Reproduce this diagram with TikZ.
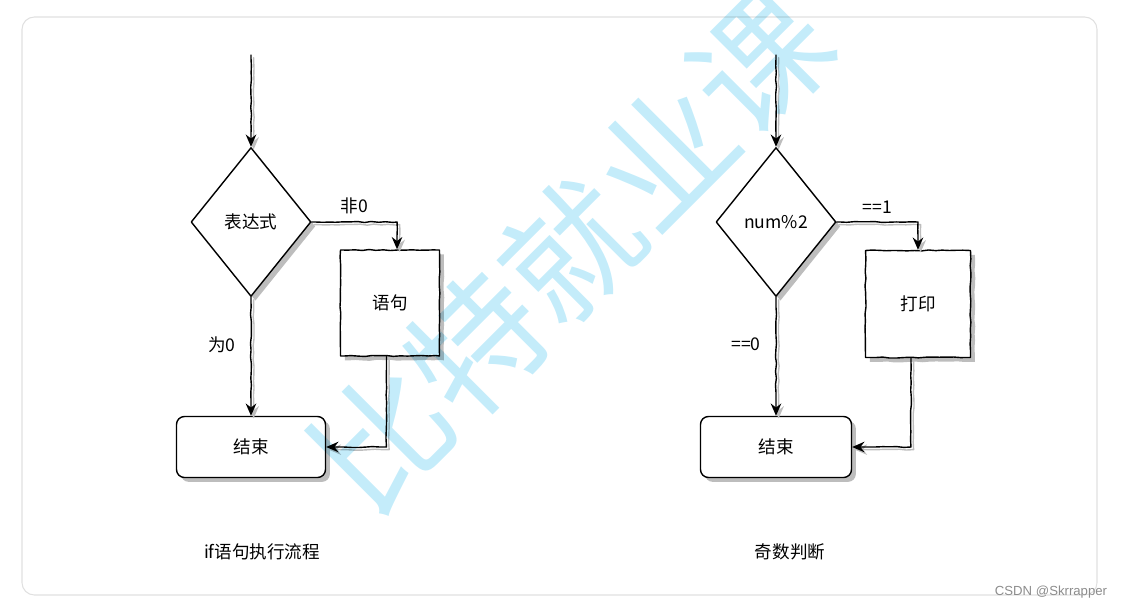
\documentclass[tikz,border=0pt]{standalone}
\usepackage{fontspec}
\setmainfont{Noto Sans CJK SC}
\newfontfamily\csdnfont{Liberation Sans}
\usetikzlibrary{shapes.geometric,decorations.pathmorphing,shadows,arrows.meta}
\definecolor{FrameGray}{HTML}{E0E0E0}
\definecolor{MarkCyan}{HTML}{C4ECFA}
\definecolor{ShadowGray}{HTML}{BDBDBD}

\begin{document}
\begin{tikzpicture}[x=0.02cm,y=-0.02cm,line cap=round,line join=round,>={Stealth[length=7pt,width=6pt]},
  sketch/.style={decorate,decoration={random steps,segment length=4pt,amplitude=.3pt,pre length=2pt,post length=8pt}},
  shade/.style={drop shadow={shadow xshift=2.5pt,shadow yshift=-2.5pt,fill=ShadowGray,opacity=1}},
  txt/.style={font=\fontsize{10}{12}\selectfont},
  test/.style={diamond,draw,line width=.8pt,fill=white,shade,txt,minimum width=2.4cm,minimum height=2.98cm,inner sep=0pt},
  stmt/.style={rectangle,draw,line width=.8pt,fill=white,shade,txt,sketch},
  stop/.style={rectangle,rounded corners=4.5pt,draw,line width=.8pt,fill=white,shade,txt,minimum width=2.98cm,minimum height=1.22cm},
  wire/.style={->,line width=.8pt,sketch,preaction={draw=ShadowGray,line width=.8pt,transform canvas={xshift=1.5pt,yshift=-1.5pt}}}]
  \useasboundingbox (0,0) rectangle (1126,609);
  \draw[FrameGray,line width=.6pt,rounded corners=7pt] (22,17) rectangle (1097,595);

  % if语句执行流程
  \coordinate (in1) at (251,55);
  \node[test] (d1) at (251,222) {表达式};
  \node[stmt,minimum width=1.98cm,minimum height=2.12cm] (s1) at (390,303) {语句};
  \node[stop] (e1) at (251,447) {结束};
  \draw[wire] (in1) -- (d1.north);
  \draw[wire] (d1.east) -| node[pos=.25,above=1pt,txt] (l11) {非0} ([xshift=4pt]s1.north);
  \draw[wire] (d1.south) -- node[pos=.4,left=5pt,txt] (l12) {为0} (e1.north);
  \draw[wire] ([xshift=-2pt]s1.south) |- (e1.east);
  \node[txt] (c1) at (262,552) {if语句执行流程};

  % 奇数判断
  \coordinate (in2) at (776,55);
  \node[test] (d2) at (776,222) {num\%2};
  \node[stmt,minimum width=2.1cm,minimum height=2.14cm] (s2) at (918,304) {打印};
  \node[stop,minimum width=3.02cm] (e2) at (776,447) {结束};
  \draw[wire] (in2) -- (d2.north);
  \draw[wire] (d2.east) -| node[pos=.25,above=1pt,txt] (l21) {==1} (s2.north);
  \draw[wire] (d2.south) -- node[pos=.4,left=5pt,txt] (l22) {==0} (e2.north);
  \draw[wire] ([xshift=-4pt]s2.south) |- (e2.east);
  \node[txt] (c2) at (790,552) {奇数判断};

  % watermarks
  \begin{scope}[blend mode=multiply]
    \node[MarkCyan,rotate=45,font=\fontsize{76}{80}\selectfont] (mark) at (571,250) {比特就业课};
  \end{scope}
  \node[text=black!45,font=\csdnfont\fontsize{7.5}{9}\selectfont,inner sep=1pt] (csdn) at (1051,592) {CSDN @Skrrapper};
\end{tikzpicture}
\end{document}
